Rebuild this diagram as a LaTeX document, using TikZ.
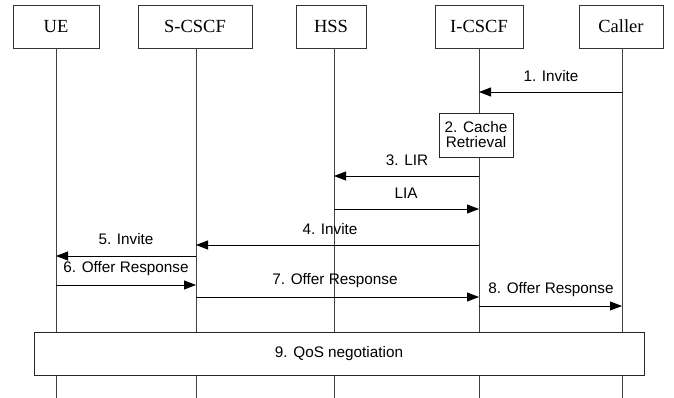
\documentclass[tikz,border=0pt]{standalone}
\usepackage{fontspec}
\setmainfont{Liberation Serif}
\newfontfamily\arialfont{Liberation Sans}
\usetikzlibrary{arrows.meta}
\begin{document}
\begin{tikzpicture}[x=1pt,y=-1pt,
  hdr/.style={draw=black!80,line width=0.8pt,fill=white,minimum height=43pt,inner sep=0pt,font=\fontsize{18.5}{21}\selectfont},
  life/.style={draw=black!75,line width=0.8pt},
  msg/.style={draw=black,line width=0.8pt,-{Triangle[length=12pt,width=9pt]}},
  lbl/.style={font=\arialfont\fontsize{15.3}{17}\selectfont,inner sep=0pt},
  procbox/.style={draw=black!85,line width=0.8pt,fill=white,inner sep=0pt,align=center,font=\arialfont\fontsize{15.3}{17}\selectfont}]
\useasboundingbox (0,0) rectangle (674,398);
% header boxes
\node[hdr,minimum width=86pt] (ue) at (56,26.5) {UE};
\node[hdr,minimum width=114pt] (scscf) at (195,26.5) {S-CSCF};
\node[hdr,minimum width=70pt] (hss) at (331,26.5) {HSS};
\node[hdr,minimum width=88pt] (icscf) at (479,26.5) {I-CSCF};
\node[hdr,minimum width=84pt] (caller) at (621,26.5) {Caller};
% lifeline ends
\coordinate (ueT) at (56,48);  \coordinate (ueB) at (56,398);
\coordinate (sT) at (196,48);  \coordinate (sB) at (196,398);
\coordinate (hT) at (334,48);  \coordinate (hB) at (334,398);
\coordinate (iT) at (479,48);  \coordinate (iB) at (479,398);
\coordinate (cT) at (622,48);  \coordinate (cB) at (622,398);
\draw[life] (ueT) -- (ueB);
\draw[life] (sT) -- (sB);
\draw[life] (hT) -- (hB);
\draw[life] (iT) -- (iB);
\draw[life] (cT) -- (cB);
% message end points
\coordinate (c1) at (622,92);  \coordinate (i1) at (479,92);
\coordinate (i3) at (479,176); \coordinate (h3) at (334,176);
\coordinate (h4) at (334,209); \coordinate (i4) at (479,209);
\coordinate (i5) at (479,245); \coordinate (s5) at (196,245);
\coordinate (s6) at (196,256); \coordinate (u6) at (56,256);
\coordinate (u7) at (56,285);  \coordinate (s7) at (196,285);
\coordinate (s8) at (196,297); \coordinate (i8) at (479,297);
\coordinate (i9) at (479,306); \coordinate (c9) at (622,306);
\draw[msg] (c1) -- (i1);
\node[procbox,minimum width=74pt,minimum height=44pt] (cache) at (476,135) {2. Cache\\[-2pt]Retrieval};
\draw[msg] (i3) -- (h3);
\draw[msg] (h4) -- (i4);
\draw[msg] (i5) -- (s5);
\draw[msg] (s6) -- (u6);
\draw[msg] (u7) -- (s7);
\draw[msg] (s8) -- (i8);
\draw[msg] (i9) -- (c9);
% labels
\node[lbl] (l1) at (551,76) {1. Invite};
\node[lbl] (l3) at (407,160) {3. LIR};
\node[lbl] (l3b) at (406,193) {LIA};
\node[lbl] (l4) at (330,229) {4. Invite};
\node[lbl] (l5) at (126,239) {5. Invite};
\node[lbl] (l6) at (126,269) {6. Offer Response};
\node[lbl] (l7) at (335,281) {7. Offer Response};
\node[lbl] (l8) at (551,290) {8. Offer Response};
% QoS box
\node[procbox,minimum width=610pt,minimum height=43pt] (qos) at (339,353.5) {9. QoS negotiation};
\end{tikzpicture}
\end{document}
